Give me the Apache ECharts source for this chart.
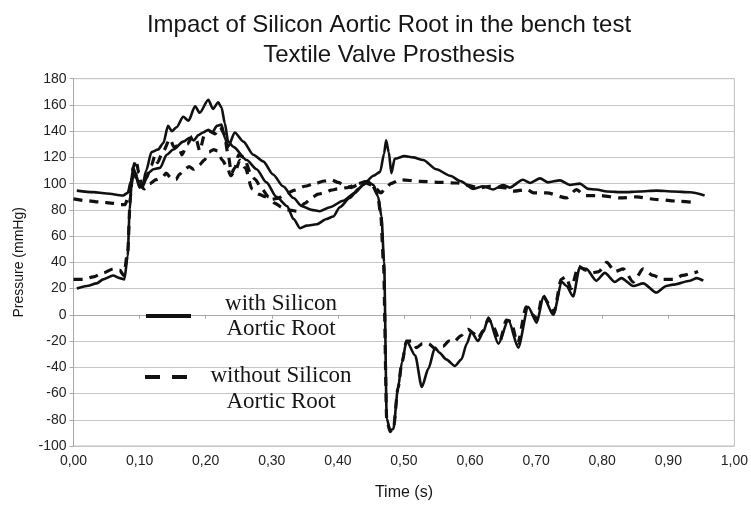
<!DOCTYPE html>
<html>
<head>
<meta charset="utf-8">
<script src="https://cdn.jsdelivr.net/npm/echarts@6/dist/echarts.min.js"></script>
<style>
html,body{margin:0;padding:0;background:#fff;}
#chart{width:751px;height:506px;}
</style>
</head>
<body>
<div id="chart"></div>
<script>
// ---- Data ----
const titleLines = ['Impact of Silicon Aortic Root in the bench test', 'Textile Valve Prosthesis'];
const xAxisName = 'Time (s)';
const yAxisName = 'Pressure (mmHg)';
const legendWith = ['with Silicon', 'Aortic Root'];
const legendWithout = ['without Silicon', 'Aortic Root'];

// Ventricular pressure, with silicon aortic root (solid)
const tVentWith = [0.005,0.02,0.035,0.045,0.06,0.07,0.077,0.082,0.085,0.088,0.091,0.095,0.10,0.105,0.11,0.118,0.128,0.136,0.143,0.149,0.156,0.166,0.174,0.184,0.191,0.204,0.211,0.219,0.224,0.229,0.234,0.242,0.262,0.277,0.292,0.307,0.323,0.333,0.343,0.353,0.368,0.383,0.393,0.403,0.418,0.431,0.444,0.454,0.461,0.466,0.470,0.474,0.479,0.484,0.491,0.497,0.504,0.517,0.527,0.537,0.547,0.554,0.564,0.577,0.587,0.595,0.602,0.612,0.620,0.628,0.643,0.658,0.673,0.688,0.701,0.711,0.726,0.739,0.746,0.756,0.766,0.776,0.791,0.804,0.819,0.829,0.847,0.862,0.882,0.897,0.907,0.933,0.943,0.953];
const pVentWith = [20,22,24,27,30,28,27,45,80,100,110,104,97,100,110,124,126,131,144,140,143,151,148,159,154,164,157,162,158,146,132,128,118,111,101,90,83,73,66,68,69,73,75,82,89,96,102,99,90,75,40,-79,-88,-87,-56,-36,-20,-31,-55,-41,-25,-29,-34,-39,-34,-22,-13,-20,-13,-2,-22,-4,-25,6,-6,14,0,25,22,14,36,35,26,32,25,28,22,24,17,22,23,26,28,26];

// Aortic pressure, with silicon aortic root (solid)
const tAortWith = [0.005,0.03,0.05,0.075,0.082,0.087,0.0905,0.095,0.10,0.105,0.113,0.121,0.131,0.141,0.151,0.166,0.176,0.182,0.189,0.196,0.204,0.21,0.217,0.224,0.229,0.234,0.244,0.257,0.272,0.287,0.302,0.317,0.333,0.345,0.36,0.373,0.388,0.408,0.426,0.438,0.454,0.464,0.470,0.473,0.477,0.481,0.486,0.501,0.514,0.529,0.549,0.57,0.585,0.605,0.62,0.635,0.65,0.66,0.68,0.691,0.706,0.718,0.736,0.751,0.766,0.779,0.791,0.807,0.832,0.857,0.882,0.907,0.933,0.955];
const pAortWith = [94.7,93.5,92.5,91,93,102,112,106,98,98,108,111,112,122,126,132,135,133,137,139,141,139,144,145,135,128,139,132,122,117,107,98,89,83,80,79,82,87,93,99,106,109,123,133,124,108,119,121,120,118,111,106,102,96,98,95.5,99,97,103,100.5,104,101,102.5,99,100,96,95.5,94,93.5,94,94.7,94,93.4,91];

// Ventricular pressure, without silicon aortic root (dashed)
const tVentWithout = [0,0.015,0.03,0.045,0.06,0.07,0.076,0.082,0.086,0.09,0.0945,0.099,0.104,0.11,0.118,0.123,0.127,0.135,0.146,0.152,0.159,0.164,0.172,0.18,0.186,0.191,0.198,0.206,0.214,0.222,0.228,0.234,0.239,0.244,0.25,0.258,0.268,0.275,0.285,0.295,0.305,0.315,0.325,0.338,0.35,0.36,0.37,0.38,0.39,0.40,0.415,0.43,0.442,0.452,0.46,0.465,0.469,0.474,0.479,0.484,0.491,0.497,0.504,0.512,0.519,0.528,0.537,0.548,0.559,0.568,0.575,0.586,0.597,0.605,0.612,0.62,0.628,0.636,0.645,0.655,0.662,0.672,0.685,0.695,0.701,0.71,0.72,0.727,0.738,0.745,0.753,0.764,0.775,0.785,0.795,0.807,0.819,0.832,0.847,0.862,0.877,0.892,0.907,0.922,0.938,0.945];
const pVentWithout = [27,27,29,32,35,34,30,48,90,112,118,108,97,104,114,121,116,124,134,128,129,122,130,136,133,125,137,140,138,143,138,122,108,112,122,120,108,103,96,90,85,82,80,79,85,89,92,93,95,96,97,100,101.5,99,92,76,40,-80,-89,-87,-56,-36,-20,-20,-25,-22,-22,-26,-24,-20,-21,-16,-11,-14,-18,-12,-3,-10,-20,-4,-5,-22,6,0,-3,15,8,2,27,29,20,37,34,32,33,40,33,35,25,35,30,27,27,30,32,33];

// Aortic pressure, without silicon aortic root (dashed)
const tAortWithout = [0,0.02,0.04,0.06,0.07,0.078,0.083,0.088,0.093,0.10,0.107,0.115,0.125,0.135,0.14,0.148,0.155,0.16,0.168,0.175,0.182,0.19,0.198,0.205,0.212,0.218,0.225,0.232,0.238,0.245,0.252,0.26,0.27,0.28,0.29,0.30,0.31,0.32,0.335,0.35,0.365,0.38,0.39,0.40,0.41,0.42,0.43,0.44,0.45,0.458,0.465,0.472,0.48,0.494,0.524,0.554,0.58,0.615,0.63,0.655,0.665,0.686,0.696,0.716,0.746,0.761,0.774,0.797,0.827,0.852,0.882,0.917,0.943];
const pAortWithout = [88.4,87,86,85,84,84,90,103,108,100,96,100,103,105,108,104,103,107,111,113,111,114,118,124,126,125,118,113,106,110,118,112,96,92,90,88,89,92,95,98,100,102,103,101,99,97,99,101,99,96,93,96,100,103,101.8,101,100.5,96.8,98,96.8,94.2,95.5,93,93,89.1,95.5,90.9,90.9,89.1,89.9,87.9,86.6,85.3];

// ---- Chart ----
function zip(ts, ps) { return ts.map((t, i) => [t, ps[i]]); }
const ink = '#111';
const chart = echarts.init(document.getElementById('chart'), null, {renderer: 'canvas'});

function lineSeries(name, ts, ps, dashed) {
  return {
    name: name, type: 'line', data: zip(ts, ps), showSymbol: false, symbol: 'none',
    smooth: 0.25, smoothMonotone: 'x',
    lineStyle: {color: ink, width: dashed ? 3.2 : 2.6, type: dashed ? [9, 7] : 'solid', cap: 'butt', join: 'round'},
    z: 3
  };
}

const option = {
  animation: false,
  backgroundColor: '#fff',
  title: {
    text: titleLines.join('\n'), left: 384, textAlign: 'center', top: 5,
    textStyle: {fontFamily: 'Liberation Sans', fontSize: 24, fontWeight: 'normal', color: '#151515', lineHeight: 30}
  },
  grid: {left: 73.5, right: 16, top: 78.7, bottom: 58.7, show: true, borderColor: '#bdbdbd', borderWidth: 1, backgroundColor: 'transparent'},
  xAxis: {
    type: 'value', min: 0, max: 1, interval: 0.1,
    name: xAxisName, nameLocation: 'middle', nameGap: 39,
    nameTextStyle: {fontFamily: 'Liberation Sans', fontSize: 16, color: '#151515'},
    axisLine: {show: true, lineStyle: {color: '#a8a8a8'}},
    axisTick: {show: true, length: 4, lineStyle: {color: '#a8a8a8'}},
    splitLine: {show: false},
    axisLabel: {fontFamily: 'Liberation Sans', fontSize: 14, color: '#222', margin: 8,
      formatter: v => v.toFixed(2).replace('.', ',')}
  },
  yAxis: {
    type: 'value', min: -100, max: 180, interval: 20,
    name: yAxisName, nameLocation: 'middle', nameGap: 47, nameRotate: 90,
    nameTextStyle: {fontFamily: 'Liberation Sans', fontSize: 14, color: '#151515'},
    axisLine: {show: true, lineStyle: {color: '#a8a8a8'}},
    axisTick: {show: true, length: 4, lineStyle: {color: '#a8a8a8'}},
    splitLine: {show: true, lineStyle: {color: '#c6c6c6', width: 1}},
    axisLabel: {fontFamily: 'Liberation Sans', fontSize: 14, color: '#222', margin: 7}
  },
  series: [
    lineSeries('Aortic with', tAortWith, pAortWith, false),
    lineSeries('Ventricular with', tVentWith, pVentWith, false),
    lineSeries('Aortic without', tAortWithout, pAortWithout, true),
    lineSeries('Ventricular without', tVentWithout, pVentWithout, true)
  ],
  graphic: [
    {type: 'line', shape: {x1: 146, y1: 316, x2: 191, y2: 316}, style: {stroke: ink, lineWidth: 4}, z: 10},
    {type: 'text', x: 281, y: 291, style: {text: legendWith.join('\n'), fontFamily: 'Liberation Serif', fontSize: 23, lineHeight: 25, fill: '#151515', align: 'center', verticalAlign: 'top'}, z: 10},
    {type: 'line', shape: {x1: 145, y1: 377, x2: 189, y2: 377}, style: {stroke: ink, lineWidth: 4, lineDash: [15, 12]}, z: 10},
    {type: 'text', x: 281, y: 363, style: {text: legendWithout.join('\n'), fontFamily: 'Liberation Serif', fontSize: 23, lineHeight: 26, fill: '#151515', align: 'center', verticalAlign: 'top'}, z: 10}
  ]
};
chart.setOption(option);
</script>
</body>
</html>
